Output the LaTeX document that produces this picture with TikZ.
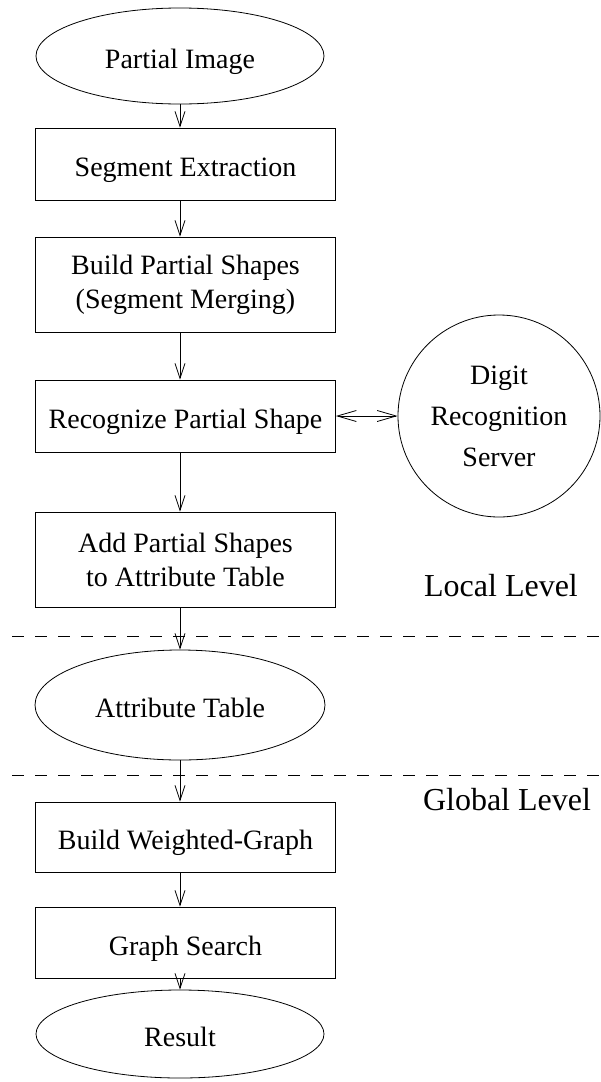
\documentclass[tikz,border=0pt]{standalone}
\usepackage{fontspec}
\setmainfont{Liberation Serif}
\usetikzlibrary{arrows.meta,shapes.geometric}
\begin{document}
\begin{tikzpicture}[x=1pt,y=-1pt,
  every node/.style={font=\fontsize{28}{34}\selectfont},
  stepbox/.style={draw, line width=0.8pt, minimum width=300pt, inner sep=0pt, align=center},
  oneline/.style={text height=25pt, text depth=0pt},
  terminal/.style={draw, ellipse, line width=0.8pt, inner sep=0pt, minimum width=288pt, minimum height=96pt},
  flow/.style={-{Straight Barb[length=15pt,width=10pt]}, line width=0.8pt},
  twoway/.style={{Straight Barb[length=19pt,width=11pt]}-{Straight Barb[length=19pt,width=11pt]}, line width=0.8pt},
  levelsep/.style={dash pattern=on 12pt off 11pt, line width=0.8pt},
  levellabel/.style={anchor=base, font=\fontsize{32}{38}\selectfont}]
\useasboundingbox (0,0) rectangle (600,1082);

% main pipeline
\node[terminal, oneline] (pi) at (180,56) {Partial Image};
\node[stepbox, oneline, minimum height=72pt] (se) at (185.5,164) {Segment Extraction};
\node[stepbox, minimum height=95pt] (bps) at (185.5,284.5) {Build Partial Shapes\\(Segment Merging)};
\node[stepbox, oneline, minimum height=72pt] (rps) at (185.5,416) {Recognize Partial Shape};
\node[stepbox, minimum height=95pt] (apt) at (185.5,559.5) {Add Partial Shapes\\to Attribute Table};
\node[terminal, oneline, minimum width=290pt, minimum height=110pt] (at) at (180,705) {Attribute Table};
\node[stepbox, oneline, minimum height=70pt] (bwg) at (185.5,837) {Build Weighted-Graph};
\node[stepbox, oneline, minimum height=71pt] (gs) at (185.5,942.5) {Graph Search};
\node[terminal, oneline, minimum height=88pt] (res) at (180,1034) {Result};

% recognition server
\node[draw, circle, line width=0.8pt, minimum size=202pt, inner sep=0pt, align=center,
      font=\fontsize{28}{41}\selectfont] (drs) at (499,416) {Digit\\Recognition\\Server};

% level labels
\node[levellabel] (ll) at (501,596) {Local Level};
\node[levellabel] (gl) at (507,810) {Global Level};

% level separators
\coordinate (s1l) at (12,636.5);
\coordinate (s1r) at (600,636.5);
\coordinate (s2l) at (12,775);
\coordinate (s2r) at (600,775);
\draw[levelsep] (s1l) -- (s1r);
\draw[levelsep] (s2l) -- (s2r);

% connectors
\draw[flow] (pi.south) -- (pi.south |- se.north);
\draw[flow] (se.south -| pi) -- (bps.north -| pi);
\draw[flow] (bps.south -| pi) -- (rps.north -| pi);
\draw[flow] (rps.south -| pi) -- (apt.north -| pi);
\draw[flow] (apt.south -| pi) -- (at.north);
\draw[flow] (at.south) -- (bwg.north -| pi);
\draw[flow] (bwg.south -| pi) -- (gs.north -| pi);
\draw[flow] (gs.south -| pi) -- (res.north);
\draw[twoway] (rps.east) -- (drs.west);
\end{tikzpicture}
\end{document}
